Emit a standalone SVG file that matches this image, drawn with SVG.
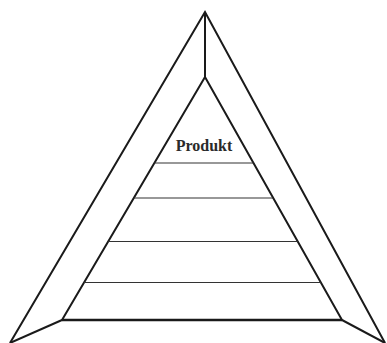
<svg xmlns="http://www.w3.org/2000/svg" width="387" height="343" viewBox="0 0 387 343">
<style>
.edge{fill:none;stroke:#1a1a1a;stroke-width:2;stroke-linejoin:miter}
.tier{stroke:#333;stroke-width:1.2}
.label{font-family:"Liberation Serif",serif;font-weight:bold;font-size:16px;fill:#2a2a2a}
</style>
<rect width="387" height="343" fill="#fff"/>
<g id="outer-frame">
<polyline class="edge" points="10,343 205,12 385,343"/>
</g>
<g id="inner-pyramid">
<polygon class="edge" points="205,77 62,320 342,320"/>
<line x1="62" y1="320" x2="342" y2="320" stroke="#1a1a1a" stroke-width="2.6"/>
</g>
<g id="connectors">
<line class="edge" x1="205" y1="12" x2="205" y2="77"/>
<line class="edge" x1="10" y1="343" x2="62" y2="320"/>
<line class="edge" x1="385" y1="343" x2="342" y2="320"/>
</g>
<g id="tiers">
<line class="tier" x1="154.4" y1="163" x2="253.5" y2="163"/>
<line class="tier" x1="133.8" y1="198" x2="273.2" y2="198"/>
<line class="tier" x1="108.2" y1="241.5" x2="297.7" y2="241.5"/>
<line class="tier" x1="84.1" y1="282.5" x2="320.9" y2="282.5"/>
</g>
<g id="produkt">
<text class="label" x="204" y="151" text-anchor="middle">Produkt</text>
</g>
</svg>
